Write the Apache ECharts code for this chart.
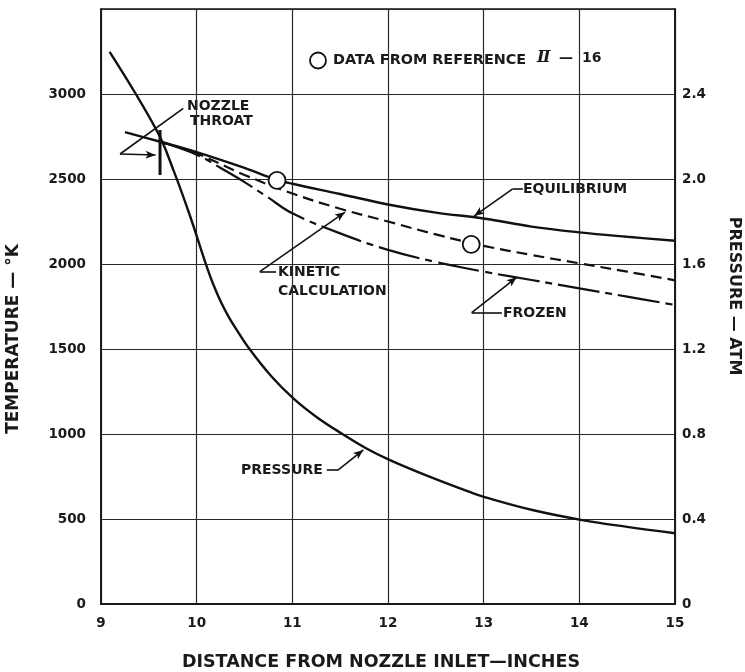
<!DOCTYPE html>
<html><head><meta charset="utf-8">
<script src="https://cdn.jsdelivr.net/npm/echarts@6/dist/echarts.min.js"></script>
<style>html,body{margin:0;padding:0;background:#fff}#c{width:745px;height:672px}</style>
</head><body><div id="c"></div>
<script>
// ---- data (x = distance from nozzle inlet, inches) ----
const equilibriumX = [9.25, 9.62, 10.0, 10.5, 10.84, 11.0, 11.5, 12.0, 12.5, 13.0, 13.5, 14.0, 14.5, 15.0];
const equilibriumT = [2776, 2719, 2658, 2565, 2495, 2472, 2412, 2350, 2302, 2268, 2220, 2186, 2160, 2137];

const kineticX = [9.62, 10.0, 10.5, 11.0, 11.5, 12.0, 12.5, 13.0, 13.5, 14.0, 14.5, 15.0];
const kineticT = [2719, 2650, 2524, 2415, 2325, 2250, 2174, 2107, 2053, 2004, 1955, 1904];

const frozenX = [9.62, 10.0, 10.25, 10.5, 10.75, 11.0, 11.5, 12.0, 12.5, 13.0, 13.5, 14.0, 14.5, 15.0];
const frozenT = [2719, 2643, 2565, 2482, 2390, 2298, 2180, 2083, 2012, 1955, 1906, 1857, 1808, 1759];

const pressureX = [9.09, 9.59, 9.76, 9.93, 10.09, 10.17, 10.25, 10.33, 10.41, 10.56, 10.78, 11.01, 11.26, 11.52, 11.77, 12.02, 12.44, 12.86, 13.01, 13.52, 14.03, 14.50, 15.0];
const pressureP = [2.598, 2.222, 2.038, 1.827, 1.608, 1.508, 1.425, 1.355, 1.296, 1.195, 1.072, 0.968, 0.878, 0.801, 0.733, 0.677, 0.598, 0.526, 0.503, 0.441, 0.395, 0.363, 0.333];

const refDataX = [10.84, 12.87];
const refDataT = [2492, 2116];

const throatX = 9.617;
const throatT = [2524, 2788];

const xTickLabels = ['9', '10', '11', '12', '13', '14', '15'];
const tempTicks = [0, 500, 1000, 1500, 2000, 2500, 3000];
const pressTicks = ['0', '0.4', '0.8', '1.2', '1.6', '2.0', '2.4'];

const zip = (a, b) => a.map((v, i) => [v, b[i]]);

const FONT = 'DejaVu Sans';
const INK = '#1a1a1a';
const LINE = '#111';

const chart = echarts.init(document.getElementById('c'), null, {renderer: 'canvas'});

function seg(a, b, arrow) {
  return [{coord: a, symbol: 'none'}, {coord: b, symbol: arrow ? 'arrow' : 'none', symbolSize: arrow ? [6, 10] : 0}];
}

const leaders = [
  // nozzle throat
  seg([9.86, 2916], [9.199, 2647], false),
  seg([9.199, 2647], [9.57, 2641], true),
  // equilibrium
  seg([13.41, 2440], [13.30, 2440], false),
  seg([13.30, 2440], [12.90, 2282], true),
  // kinetic
  seg([10.83, 1955], [10.66, 1955], false),
  seg([10.66, 1955], [11.55, 2305], true),
  // frozen
  seg([13.19, 1714], [12.875, 1714], false),
  seg([12.875, 1714], [13.345, 1922], true),
  // pressure
  seg([11.36, 788], [11.477, 788], false),
  seg([11.477, 788], [11.742, 906], true)
];

const txt = (x, y, text, size, extra) => ({
  type: 'text', x: x, y: y, silent: true,
  style: Object.assign({text: text, fill: INK, font: 'bold ' + (size || 14) + 'px "' + FONT + '"',
    textAlign: 'left', textVerticalAlign: 'middle', verticalAlign: 'middle'}, extra || {})
});

const option = {
  animation: false,
  backgroundColor: '#fff',
  grid: {left: 101, right: 70, top: 9, bottom: 68, show: true, borderColor: LINE, borderWidth: 1.5, backgroundColor: 'transparent'},
  xAxis: {
    type: 'value', min: 9, max: 15, interval: 1,
    axisLine: {show: true, lineStyle: {color: LINE, width: 1.5}},
    axisTick: {show: false},
    axisLabel: {margin: 12, color: INK, fontFamily: FONT, fontWeight: 'bold', fontSize: 13.5,
      formatter: v => xTickLabels[Math.round(v - 9)]},
    splitLine: {show: true, lineStyle: {color: '#2a2a2a', width: 1.2}}
  },
  yAxis: [{
    type: 'value', min: 0, max: 3500, interval: 500, position: 'left',
    axisLine: {show: true, lineStyle: {color: LINE, width: 1.5}},
    axisTick: {show: false},
    axisLabel: {margin: 15, color: INK, fontFamily: FONT, fontWeight: 'bold', fontSize: 13.5,
      formatter: v => { const i = tempTicks.indexOf(Math.round(v)); return i >= 0 ? String(tempTicks[i]) : ''; }},
    splitLine: {show: true, lineStyle: {color: '#2a2a2a', width: 1.2}}
  }, {
    type: 'value', min: 0, max: 2.8, interval: 0.4, position: 'right',
    axisLine: {show: true, lineStyle: {color: LINE, width: 1.5}},
    axisTick: {show: false},
    axisLabel: {margin: 7, color: INK, fontFamily: FONT, fontWeight: 'bold', fontSize: 13.5,
      formatter: v => { const i = Math.round(v / 0.4); return pressTicks[i] !== undefined ? pressTicks[i] : ''; }},
    splitLine: {show: false}
  }],
  series: [
    {name: 'Equilibrium', type: 'line', yAxisIndex: 0, data: zip(equilibriumX, equilibriumT), smooth: 0.4,
      showSymbol: false, lineStyle: {color: LINE, width: 2.4}, z: 3},
    {name: 'Kinetic', type: 'line', yAxisIndex: 0, data: zip(kineticX, kineticT), smooth: 0.4,
      showSymbol: false, lineStyle: {color: LINE, width: 2.2, type: [11, 6]}, z: 3},
    {name: 'Frozen', type: 'line', yAxisIndex: 0, data: zip(frozenX, frozenT), smooth: 0.4,
      showSymbol: false, lineStyle: {color: LINE, width: 2.2, type: [42, 6, 7, 6]}, z: 3},
    {name: 'Pressure', type: 'line', yAxisIndex: 1, data: zip(pressureX, pressureP), smooth: 0.4,
      showSymbol: false, lineStyle: {color: LINE, width: 2.4}, z: 3},
    {name: 'Throat', type: 'line', yAxisIndex: 0, data: throatT.map(t => [throatX, t]),
      showSymbol: false, lineStyle: {color: LINE, width: 3}, z: 4},
    {name: 'Leaders', type: 'line', yAxisIndex: 0, data: [],
      markLine: {silent: true, animation: false, symbol: ['none', 'none'], label: {show: false},
        lineStyle: {color: LINE, width: 1.6, type: 'solid'}, emphasis: {disabled: true}, data: leaders}},
    {name: 'Reference data', type: 'scatter', yAxisIndex: 0, data: zip(refDataX, refDataT),
      symbol: 'circle', symbolSize: 17, itemStyle: {color: '#fff', borderColor: LINE, borderWidth: 1.8, opacity: 1}, z: 6}
  ],
  graphic: [
    {type: 'circle', shape: {cx: 318, cy: 60.5, r: 8}, style: {fill: '#fff', stroke: LINE, lineWidth: 1.8}, silent: true},
    txt(333, 60, 'DATA FROM REFERENCE', 14.4),
    txt(537, 58, 'Ⅱ', 16, {font: 'italic bold 16px "DejaVu Serif"'}),
    txt(559, 58, '—', 14),
    txt(582, 58, '16', 14),
    txt(187, 106.5, 'NOZZLE', 14),
    txt(190, 121.5, 'THROAT', 14),
    txt(523, 189.5, 'EQUILIBRIUM', 14),
    txt(278, 272.5, 'KINETIC', 14),
    txt(278, 291.5, 'CALCULATION', 14),
    txt(503, 313, 'FROZEN', 14),
    txt(241, 470.5, 'PRESSURE', 14),
    {type: 'text', x: 14, y: 339, rotation: Math.PI / 2, silent: true,
      style: {text: 'TEMPERATURE — °K', fill: INK, font: 'bold 17px "' + FONT + '"', textAlign: 'center', textVerticalAlign: 'middle', verticalAlign: 'middle'}},
    {type: 'text', x: 734, y: 296, rotation: -Math.PI / 2, silent: true,
      style: {text: 'PRESSURE — ATM', fill: INK, font: 'bold 16px "' + FONT + '"', textAlign: 'center', textVerticalAlign: 'middle', verticalAlign: 'middle'}},
    {type: 'text', x: 381, y: 662, silent: true,
      style: {text: 'DISTANCE FROM NOZZLE INLET—INCHES', fill: INK, font: 'bold 17.5px "' + FONT + '"', textAlign: 'center', textVerticalAlign: 'middle', verticalAlign: 'middle'}}
  ]
};
chart.setOption(option);
</script>
</body></html>
